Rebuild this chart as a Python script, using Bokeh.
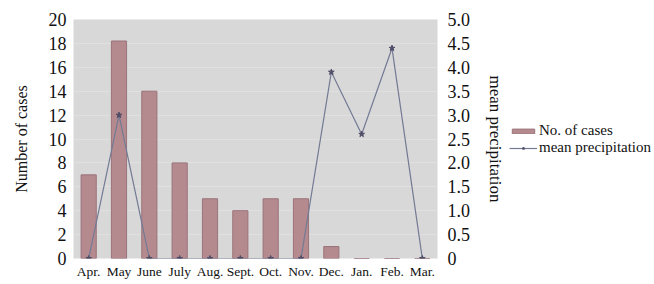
from bokeh.plotting import figure
from bokeh.layouts import row
from bokeh.models import Range1d, LinearAxis, FixedTicker, Legend, LegendItem, PrintfTickFormatter, ColumnDataSource
from bokeh.embed import file_html
from bokeh.resources import INLINE

months = ["Apr.", "May", "June", "July", "Aug.", "Sept.", "Oct.", "Nov.", "Dec.", "Jan.", "Feb.", "Mar."]
cases = [7, 18.2, 14, 8, 5, 4, 5, 5, 1, 0, 0, 0]
precip = [0, 3.0, 0, 0, 0, 0, 0, 0, 3.9, 2.6, 4.4, 0]
left_ticks = [0, 2, 4, 6, 8, 10, 12, 14, 16, 18, 20]
right_ticks = [0, 0.5, 1.0, 1.5, 2.0, 2.5, 3.0, 3.5, 4.0, 4.5, 5.0]

FONT = "Liberation Serif"
BAR_FILL = "#b48a8f"
BAR_LINE = "#9a737a"
LINE_COL = "#737a94"
MARK_COL = "#4e4c66"

p = figure(x_range=months, y_range=Range1d(0, 20), frame_width=364, frame_height=239,
           output_backend="svg", toolbar_location=None,
           min_border_left=73, min_border_right=70, min_border_top=19, min_border_bottom=22)
p.extra_y_ranges = {"precip": Range1d(0, 5)}
p.background_fill_color = "#d8d8d8"
p.border_fill_color = "white"
p.outline_line_color = None

p.xgrid.grid_line_color = None
p.ygrid.grid_line_color = "#e0e0e0"
p.ygrid.grid_line_width = 1
p.ygrid.ticker = FixedTicker(ticks=left_ticks)

bars = p.vbar(x=months, top=cases, width=0.5, fill_color=BAR_FILL,
              line_color=BAR_LINE, line_width=1)
line = p.line(x=months, y=precip, y_range_name="precip", line_color=LINE_COL, line_width=1.2)
pts = p.scatter(x=months, y=precip, y_range_name="precip", marker="star", size=6,
                fill_color=MARK_COL, line_color=MARK_COL)

# left axis
ya = p.yaxis[0]
ya.ticker = FixedTicker(ticks=left_ticks)
ya.axis_label = "Number of cases"
ya.axis_line_color = None
ya.major_tick_line_color = None
ya.minor_tick_line_color = None
ya.major_tick_out = 0
ya.minor_tick_out = 0
ya.major_label_text_font = FONT
ya.major_label_text_font_size = "18px"
ya.major_label_text_color = "#111111"
ya.major_label_standoff = 7
ya.axis_label_text_font = FONT
ya.axis_label_text_font_size = "16px"
ya.axis_label_text_font_style = "normal"
ya.axis_label_text_color = "#111111"
ya.axis_label_standoff = 16

# right axis
ra = LinearAxis(y_range_name="precip", ticker=FixedTicker(ticks=right_ticks),
                formatter=PrintfTickFormatter(format="%.1f"))
ra.major_label_overrides = {0: "0"}
ra.axis_label = "mean precipitation"
ra.axis_line_color = None
ra.major_tick_line_color = None
ra.minor_tick_line_color = None
ra.major_tick_out = 0
ra.minor_tick_out = 0
ra.major_label_text_font = FONT
ra.major_label_text_font_size = "18px"
ra.major_label_text_color = "#111111"
ra.major_label_standoff = 10
ra.axis_label_text_font = FONT
ra.axis_label_text_font_size = "17px"
ra.axis_label_text_font_style = "normal"
ra.axis_label_text_color = "#111111"
ra.axis_label_standoff = 13
p.add_layout(ra, "right")

# x axis
xa = p.xaxis[0]
xa.axis_line_color = None
xa.major_tick_line_color = None
xa.minor_tick_line_color = None
xa.major_tick_out = 0
xa.major_label_text_font = FONT
xa.major_label_text_font_size = "13.5px"
xa.major_label_text_color = "#111111"
xa.major_label_standoff = 5

# legend figure (keys only; sample sources hold no drawable points)
lg = figure(width=147, height=280, x_range=Range1d(0, 1), y_range=Range1d(0, 1),
            output_backend="svg", toolbar_location=None,
            min_border_left=0, min_border_right=0, min_border_top=0, min_border_bottom=0)
lg.axis.visible = False
lg.grid.grid_line_color = None
lg.outline_line_color = None
lg.background_fill_color = "white"
nan = float("nan")
keysrc = ColumnDataSource(data=dict(x=[nan], y=[nan]))
k_bar = lg.vbar(x="x", top="y", width=0.5, source=keysrc, fill_color=BAR_FILL, line_color=BAR_LINE)
k_line = lg.line(x="x", y="y", source=keysrc, line_color=LINE_COL, line_width=1.2)
k_pts = lg.scatter(x="x", y="y", source=keysrc, marker="star", size=5,
                   fill_color=MARK_COL, line_color=MARK_COL)

legend = Legend(items=[LegendItem(label="No. of cases", renderers=[k_bar]),
                       LegendItem(label="mean precipitation", renderers=[k_line, k_pts])],
                location=(1, 101), background_fill_alpha=0, border_line_color=None,
                label_text_font=FONT, label_text_font_size="15px", label_text_color="#111111",
                glyph_width=28, glyph_height=6, label_standoff=2, spacing=-3,
                padding=0, margin=0, label_height=12)
lg.add_layout(legend, "center")

layout = row(p, lg, spacing=0)
open("out.html", "w").write(file_html(layout, INLINE))
